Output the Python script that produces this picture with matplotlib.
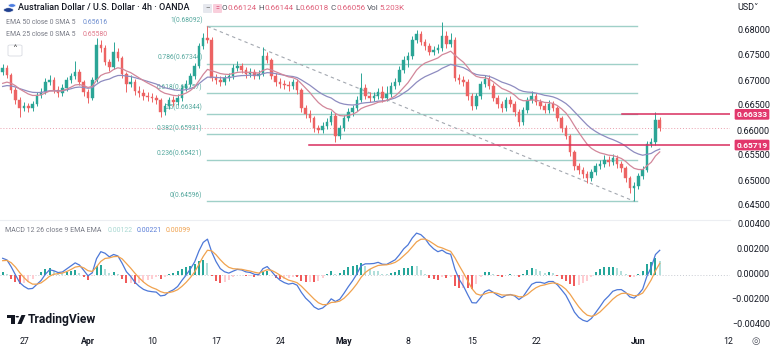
import numpy as np
import matplotlib
matplotlib.use("Agg")
import matplotlib.pyplot as plt
import matplotlib.transforms as mtransforms
from matplotlib.patches import Rectangle, FancyBboxPatch, Polygon, Circle

plt.rcParams['font.family'] = ['Roboto', 'DejaVu Sans']

# ------------------------------------------------------------------ data
title = "Australian Dollar / U.S. Dollar · 4h · OANDA"
ohlc_header = [("O", "0.66124"), ("H", "0.66144"), ("L", "0.66018"), ("C", "0.66056"), ("Vol", "5.203K")]

first_open = 0.6718
closes = [0.6726, 0.6712, 0.6682, 0.6662, 0.6646, 0.6650, 0.6646, 0.6654, 0.6672, 0.6678,
          0.6698, 0.6702, 0.6682, 0.6676, 0.6686, 0.6702, 0.6710, 0.6718, 0.6698, 0.6678,
          0.6666, 0.6702, 0.6772, 0.6766, 0.6738, 0.6728, 0.6758, 0.6746, 0.6714, 0.6694,
          0.6698, 0.6680, 0.6676, 0.6670, 0.6668, 0.6666, 0.6662, 0.6638, 0.6650, 0.6662,
          0.6658, 0.6666, 0.6686, 0.6694, 0.6710, 0.6730, 0.6770, 0.6786, 0.6782, 0.6706,
          0.6702, 0.6698, 0.6706, 0.6710, 0.6726, 0.6730, 0.6722, 0.6714, 0.6718, 0.6710,
          0.6714, 0.6750, 0.6742, 0.6710, 0.6698, 0.6694, 0.6692, 0.6690, 0.6698, 0.6682,
          0.6646, 0.6634, 0.6626, 0.6606, 0.6602, 0.6610, 0.6618, 0.6630, 0.6590, 0.6606,
          0.6626, 0.6638, 0.6646, 0.6662, 0.6686, 0.6670, 0.6666, 0.6670, 0.6678, 0.6666,
          0.6674, 0.6690, 0.6698, 0.6722, 0.6742, 0.6750, 0.6782, 0.6794, 0.6778, 0.6770,
          0.6758, 0.6762, 0.6766, 0.6790, 0.6774, 0.6782, 0.6706, 0.6702, 0.6698, 0.6670,
          0.6650, 0.6670, 0.6694, 0.6704, 0.6690, 0.6666, 0.6654, 0.6646, 0.6662, 0.6654,
          0.6638, 0.6618, 0.6642, 0.6662, 0.6670, 0.6658, 0.6650, 0.6642, 0.6654, 0.6646,
          0.6626, 0.6606, 0.6590, 0.6558, 0.6530, 0.6522, 0.6514, 0.6506, 0.6518, 0.6530,
          0.6534, 0.6542, 0.6538, 0.6546, 0.6534, 0.6526, 0.6506, 0.6486, 0.6490, 0.6510,
          0.6522, 0.6574, 0.6578, 0.6622, 0.66056]
highs = [0.6734, 0.6732, 0.6716, 0.6688, 0.6668, 0.6658, 0.6656, 0.6660, 0.6678, 0.6686,
         0.6706, 0.6712, 0.6708, 0.6690, 0.6694, 0.6708, 0.6716, 0.6740, 0.6724, 0.6702,
         0.6684, 0.6708, 0.6786, 0.6782, 0.6772, 0.6744, 0.6778, 0.6766, 0.6750, 0.6718,
         0.6712, 0.6704, 0.6690, 0.6684, 0.6678, 0.6676, 0.6672, 0.6666, 0.6656, 0.6668,
         0.6670, 0.6674, 0.6692, 0.6702, 0.6716, 0.6736, 0.6776, 0.6796, 0.68092, 0.6788,
         0.6714, 0.6710, 0.6712, 0.6716, 0.6734, 0.6740, 0.6736, 0.6728, 0.6726, 0.6724,
         0.6722, 0.6768, 0.6758, 0.6746, 0.6716, 0.6706, 0.6702, 0.6700, 0.6704, 0.6704,
         0.6686, 0.6652, 0.6642, 0.6630, 0.6612, 0.6618, 0.6626, 0.6640, 0.6636, 0.6612,
         0.6632, 0.6646, 0.6652, 0.6670, 0.6716, 0.6694, 0.6678, 0.6678, 0.6686, 0.6690,
         0.6690, 0.6698, 0.6706, 0.6730, 0.6750, 0.6758, 0.6790, 0.6802, 0.6800, 0.6784,
         0.6776, 0.6770, 0.6774, 0.6818, 0.6800, 0.6796, 0.6788, 0.6714, 0.6710, 0.6704,
         0.6676, 0.6676, 0.6700, 0.6712, 0.6712, 0.6696, 0.6672, 0.6660, 0.6668, 0.6670,
         0.6660, 0.6644, 0.6648, 0.6668, 0.6680, 0.6676, 0.6664, 0.6656, 0.6662, 0.6660,
         0.6650, 0.6630, 0.6612, 0.6594, 0.6562, 0.6536, 0.6528, 0.6520, 0.6524, 0.6536,
         0.6542, 0.6552, 0.6550, 0.6554, 0.6552, 0.6540, 0.6530, 0.6510, 0.6498, 0.6516,
         0.6530, 0.6580, 0.6586, 0.6638, 0.6628]
lows = [0.6712, 0.6706, 0.6676, 0.6654, 0.6628, 0.6640, 0.6638, 0.6640, 0.6650, 0.6666,
        0.6674, 0.6692, 0.6676, 0.6668, 0.6670, 0.6680, 0.6696, 0.6704, 0.6692, 0.6670,
        0.6656, 0.6662, 0.6698, 0.6758, 0.6732, 0.6720, 0.6724, 0.6740, 0.6706, 0.6678,
        0.6688, 0.6672, 0.6668, 0.6662, 0.6660, 0.6658, 0.6654, 0.6628, 0.6632, 0.6644,
        0.6650, 0.6652, 0.6660, 0.6680, 0.6688, 0.6704, 0.6726, 0.6764, 0.6776, 0.6700,
        0.6694, 0.6690, 0.6692, 0.6700, 0.6704, 0.6720, 0.6716, 0.6706, 0.6708, 0.6704,
        0.6704, 0.6710, 0.6736, 0.6704, 0.6690, 0.6686, 0.6684, 0.6680, 0.6684, 0.6674,
        0.6638, 0.6626, 0.6618, 0.6598, 0.6596, 0.6596, 0.6604, 0.6612, 0.6578, 0.6584,
        0.6600, 0.6620, 0.6630, 0.6640, 0.6658, 0.6664, 0.6658, 0.6660, 0.6664, 0.6658,
        0.6660, 0.6668, 0.6684, 0.6692, 0.6716, 0.6728, 0.6744, 0.6776, 0.6772, 0.6762,
        0.6752, 0.6752, 0.6756, 0.6760, 0.6766, 0.6768, 0.6700, 0.6694, 0.6690, 0.6662,
        0.6642, 0.6644, 0.6664, 0.6688, 0.6684, 0.6660, 0.6646, 0.6638, 0.6640, 0.6648,
        0.6630, 0.6610, 0.6612, 0.6636, 0.6656, 0.6652, 0.6644, 0.6636, 0.6636, 0.6640,
        0.6620, 0.6598, 0.6584, 0.6550, 0.6522, 0.6514, 0.6506, 0.6496, 0.6500, 0.6512,
        0.6524, 0.6528, 0.6530, 0.6532, 0.6526, 0.6518, 0.6498, 0.6476, 0.64596, 0.6484,
        0.6504, 0.6518, 0.6568, 0.6572, 0.6600]

# indicator settings (as in the legend) and their values at the left edge of the chart
ema_slow_len, ema_fast_len = 50, 25
ema_slow_start, ema_fast_start = 0.6686, 0.6690
ema_slow_last, ema_fast_last = "0.65616", "0.65580"
macd_fast_len, macd_slow_len, macd_sig_len = 12, 26, 9
macd_fast_start, macd_slow_start, macd_sig_start = 0.6701, 0.6690, 0.0010
macd_values_text = ["0.00122", "0.00221", "0.00099"]

# Fibonacci retracement
fib_high, fib_low = 0.68092, 0.64596
fib_ratios = [1, 0.786, 0.618, 0.5, 0.382, 0.236, 0]
fib_anchor_idx = (48, 148)

# horizontal support / resistance
levels = [0.66333, 0.65719]
level_start_day = [46.7, 22.3]

# axes
price_ticks = [0.645, 0.650, 0.655, 0.660, 0.665, 0.670, 0.675, 0.680]
macd_ticks = [-0.004, -0.002, 0.0, 0.002, 0.004]
date_tick_days = [0, 5, 10, 15, 20, 25, 30, 35, 40, 48, 55]
date_tick_labels = ["27", "Apr", "10", "17", "24", "May", "8", "15", "22", "Jun", "12"]
month_labels = {"Apr", "May", "Jun"}

# ------------------------------------------------------------------ derived
closes = np.array(closes)
highs = np.array(highs)
lows = np.array(lows)
opens = np.concatenate([[first_open], closes[:-1]])
n = len(closes)
bars_per_sample = 2            # each sample here spans two 4h bars
day0 = -5.0 / 3.0
xs = day0 + np.arange(n) / 3.0


def ema(vals, length, start):
    a = 1 - (1 - 2.0 / (length + 1)) ** bars_per_sample
    out = np.empty(len(vals))
    prev = start
    for i, v in enumerate(vals):
        prev = prev + a * (v - prev)
        out[i] = prev
    return out


ema_slow = ema(closes, ema_slow_len, ema_slow_start)
ema_fast = ema(closes, ema_fast_len, ema_fast_start)
macd = ema(closes, macd_fast_len, macd_fast_start) - ema(closes, macd_slow_len, macd_slow_start)
signal = ema(macd, macd_sig_len, macd_sig_start)
hist = macd - signal

# ------------------------------------------------------------------ figure
W, H = 780, 356
fig = plt.figure(figsize=(W / 100, H / 100), dpi=100)
fig.patch.set_facecolor("white")
fig.canvas.draw()
renderer = fig.canvas.get_renderer()


def fx(px):
    return px / W


def fy(py):
    return 1 - py / H


def fit(s, target_px, **kw):
    t = fig.text(0, 0, s, fontsize=10, **kw)
    w = t.get_window_extent(renderer).width
    t.remove()
    return 10 * target_px / w


PLOT_R = 730
ax = fig.add_axes([0, fy(219), fx(PLOT_R), 219 / H])
ax2 = fig.add_axes([0, fy(332), fx(PLOT_R), 111 / H])

xlim = ((0 - 24) / 12.8, (PLOT_R - 24) / 12.8)
ax.set_xlim(*xlim)
ax2.set_xlim(*xlim)
ax.set_ylim(0.6862 - 219 / 5000, 0.6862)
ax2.set_ylim(-(332 - 274.5) / 12500, (274.5 - 221) / 12500)
for a in (ax, ax2):
    a.set_facecolor("none")
    for s in a.spines.values():
        s.set_visible(False)
    a.set_xticks([])
    a.set_yticks([])

UP, DN = "#2ba596", "#ec6363"
TEXT = "#131722"
GREY = "#787b86"
FIBC = "#9fd0c8"
FIBT = "#55a89e"
REDL = "#d92d5e"

# candles
body_w = 0.2
for k in range(n):
    o, c, h, l = opens[k], closes[k], highs[k], lows[k]
    col = UP if c >= o else DN
    ax.vlines(xs[k], l, h, color=col, lw=0.7, zorder=4)
    ax.add_patch(Rectangle((xs[k] - body_w / 2, min(o, c)), body_w, max(abs(c - o), 0.00005),
                           facecolor=col, edgecolor=col, lw=0.3, zorder=5))

# EMAs
ax.plot(xs, ema_slow, color="#8e8cc0", lw=0.9, zorder=6)
ax.plot(xs, ema_fast, color="#d2879a", lw=0.9, zorder=6)

# Fibonacci
fib_fs = fit("0.786(0.67344)", 45)
fx0, fx1 = xs[fib_anchor_idx[0]], xs[fib_anchor_idx[1]] + 0.2
for r in fib_ratios:
    lvl = fib_low + r * (fib_high - fib_low)
    ax.plot([fx0, fx1], [lvl, lvl], color=FIBC, lw=1.0, zorder=2)
    lab = f"{r:g}({lvl:.5f})"
    ax.text(fx0 - 0.38, lvl + 0.0012, lab, ha="right", va="center", fontsize=fib_fs,
            color=FIBT, zorder=1)
ax.plot([xs[fib_anchor_idx[0]], xs[fib_anchor_idx[1]]], [fib_high, fib_low],
        color="#a3a8b0", lw=0.8, ls=(0, (3, 3)), zorder=2)

# current price dotted line
ax.axhline(closes[-1], color="#eaa0ae", lw=0.7, ls=(0, (1, 2)), zorder=1)

# horizontal levels
for lvl, d0 in zip(levels, level_start_day):
    ax.plot([d0, xlim[1]], [lvl, lvl], color=REDL, lw=1.1, zorder=7)

# price scale labels
axis_fs = fit("0.68000", 32.5)
tr_p = mtransforms.blended_transform_factory(fig.transFigure, ax.transData)
for p in price_ticks:
    ax.text(fx(770), p, f"{p:.5f}", transform=tr_p, ha="right", va="center",
            fontsize=axis_fs, color=TEXT, clip_on=False)
box_fs = fit("0.66333", 31, fontweight="bold")
for lvl in levels:
    ax.text(fx(752), lvl, f"{lvl:.5f}", transform=tr_p, ha="center", va="center",
            fontsize=box_fs, color="white", fontweight="bold", clip_on=False, zorder=20,
            bbox=dict(boxstyle="round,pad=0.22,rounding_size=0.15", fc="#e2376c", ec="none"))

# MACD panel
ax2.axhline(0, color="#c8cbd2", lw=0.7, ls=(0, (1, 2)), zorder=1)
hcols = []
for k in range(n):
    prev = hist[k - 1] if k > 0 else hist[k]
    if hist[k] >= 0:
        hcols.append("#26a69a" if hist[k] >= prev else "#b2dfdb")
    else:
        hcols.append("#f05a5a" if hist[k] <= prev else "#ffcdd2")
ax2.bar(xs, hist, width=0.16, color=hcols, zorder=2)
ax2.plot(xs, macd, color="#4d78d8", lw=0.9, zorder=3)
ax2.plot(xs, signal, color="#f0a24e", lw=0.9, zorder=3)
tr_m = mtransforms.blended_transform_factory(fig.transFigure, ax2.transData)
for v in macd_ticks:
    ax2.text(fx(770), v, f"{v:.5f}".replace("-", "\u2212"), transform=tr_m, ha="right",
             va="center", fontsize=axis_fs, color=TEXT, clip_on=False)

# separator between panes
fig.add_artist(plt.Line2D([0, fx(PLOT_R)], [fy(220), fy(220)], color="#eceef2", lw=0.8))

# date labels
date_fs = fit("Apr", 14, fontweight="bold")
for d, lab in zip(date_tick_days, date_tick_labels):
    xp = 24 + 12.8 * d
    fig.text(fx(xp), fy(341), lab, ha="center", va="center", fontsize=date_fs, color=TEXT,
             fontweight="bold" if lab in month_labels else "normal")
fig.text(fx(756), fy(341), "\u25CE", ha="center", va="center", fontsize=7, color="#50535e",
         family="DejaVu Sans")


# ------------------------------------------------------------------ header texts
def seq_text(x_px, y_px, pieces, size, gap=0.0):
    x = x_px
    for s, col, kw in pieces:
        t = fig.text(fx(x), fy(y_px), s, ha="left", va="center", fontsize=size, color=col, **kw)
        bb = t.get_window_extent(renderer)
        x = bb.x1 + gap
    return x


# symbol icon
fig.add_artist(Circle((fx(8.5), fy(10)), 0.0062, transform=fig.transFigure, fc="#1f3f8f", ec="white", lw=0.4))
fig.add_artist(Circle((fx(12), fy(5.5)), 0.0048, transform=fig.transFigure, fc="#4a7be0", ec="white", lw=0.4))
title_fs = fit(title, 172, fontweight="medium")
fig.text(fx(18), fy(8), title, ha="left", va="center", fontsize=title_fs, color=TEXT, fontweight="medium")
# small buttons
fig.add_artist(FancyBboxPatch((fx(203), fy(13)), fx(9), 9 / H, boxstyle="round,pad=0,rounding_size=0.002",
                              transform=fig.transFigure, fc="#e6e8ee", ec="none"))
fig.text(fx(207.5), fy(8.3), "\u2013", ha="center", va="center", fontsize=5, color="#555")
fig.add_artist(FancyBboxPatch((fx(213), fy(13)), fx(9), 9 / H, boxstyle="round,pad=0,rounding_size=0.002",
                              transform=fig.transFigure, fc="#f9cfdc", ec="none"))
fig.text(fx(217.5), fy(8.3), "=", ha="center", va="center", fontsize=5, color="#d23a66")

ohlc_full = " ".join(a + b for a, b in ohlc_header)
ohlc_fs = fit(ohlc_full, 180)
space_w = fit(" ", 10) and None
xh = 222
for lbl, val in ohlc_header:
    xh = seq_text(xh, 8, [(lbl, "#50535e", {}), (val, "#e0607a", {})], ohlc_fs)
    xh += 0.25 * ohlc_fs * 100 / 72

fig.text(fx(737), fy(7), "USD\u02C5", ha="left", va="center", fontsize=axis_fs, color=TEXT)

# legend rows
leg_fs = fit(f"EMA {ema_slow_len} close 0 SMA 5", 69)
fig.text(fx(6), fy(22), f"EMA {ema_slow_len} close 0 SMA 5", ha="left", va="center", fontsize=leg_fs, color=GREY)
fig.text(fx(83), fy(22), ema_slow_last, ha="left", va="center", fontsize=leg_fs, color="#6f8fd0")
fig.text(fx(6), fy(34), f"EMA {ema_fast_len} close 0 SMA 5", ha="left", va="center", fontsize=leg_fs, color=GREY)
fig.text(fx(83), fy(34), ema_fast_last, ha="left", va="center", fontsize=leg_fs, color="#e0788a")
fig.add_artist(FancyBboxPatch((fx(8), fy(56)), fx(14), 11 / H, boxstyle="round,pad=0,rounding_size=0.003",
                              transform=fig.transFigure, fc="white", ec="#d8dbe2", lw=0.6))
fig.text(fx(15), fy(50), "\u02C4", ha="center", va="center", fontsize=7, color="#444", family="DejaVu Sans")

# MACD legend
macd_lab = f"MACD {macd_fast_len} {macd_slow_len} close {macd_sig_len} EMA EMA"
fig.text(fx(5), fy(231), macd_lab, ha="left", va="center", fontsize=fit(macd_lab, 95), color=GREY)
mcols = ["#a8d8d2", "#5b7fd8", "#f0a24e"]
for s, c, xp in zip(macd_values_text, mcols, [108, 137, 166]):
    fig.text(fx(xp), fy(231), s, ha="left", va="center", fontsize=leg_fs, color=c)

# TradingView logo
logo = [
    Polygon([(fx(7), fy(315)), (fx(14.5), fy(315)), (fx(14.5), fy(324)), (fx(11.3), fy(324)),
             (fx(11.3), fy(318.2)), (fx(7), fy(318.2))], closed=True),
    Polygon([(fx(17.5), fy(324)), (fx(21.5), fy(315)), (fx(25.5), fy(315)), (fx(21.5), fy(324))], closed=True),
]
for p in logo:
    p.set_transform(fig.transFigure)
    p.set_facecolor("#131722")
    p.set_edgecolor("none")
    fig.add_artist(p)
fig.add_artist(Circle((fx(17.3), fy(316.7)), 0.0022, transform=fig.transFigure, fc="#131722", ec="none"))
tv_fs = fit("TradingView", 69, fontweight="bold")
fig.text(fx(28), fy(319.5), "TradingView", ha="left", va="center", fontsize=tv_fs, color="#131722",
         fontweight="bold")

fig.savefig("out.png", dpi=100, facecolor="white")
